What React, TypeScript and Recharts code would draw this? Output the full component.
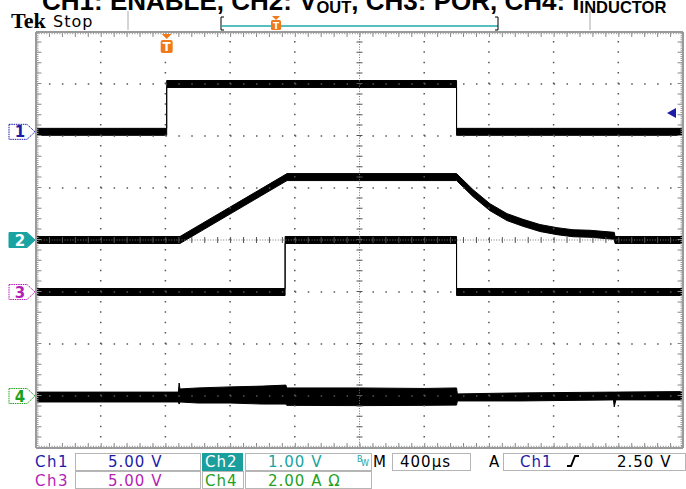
import { Area, ComposedChart, ReferenceDot, ReferenceLine, XAxis, YAxis } from "recharts";

// time in µs (10 div x 400 µs), levels in scope divisions
const ch1Time = [0, 808, 808, 2600, 2600, 4000];
const ch1Volts = [0, 0, 4.6, 4.6, 0, 0];

const ch2Time = [0, 890, 1552, 2600, 2702, 2807, 2912, 3011, 3116, 3221, 3320, 3425, 3575, 3580, 4000];
const ch2Volts = [0, 0, 1.21, 1.21, 0.9, 0.63, 0.44, 0.33, 0.23, 0.17, 0.13, 0.12, 0.08, 0, 0];

const ch3Time = [0, 1540, 1540, 2600, 2600, 4000];
const ch3Volts = [0, 0, 5, 5, 0, 0];

const ch4Time = [0, 880, 885, 890, 1000, 1200, 1400, 1545, 1550, 2000, 2400, 2600, 2605, 3000, 3570, 3575, 3585, 4000];
const ch4Top = [0.15, 0.15, 0.5, 0.27, 0.31, 0.35, 0.38, 0.42, 0.31, 0.31, 0.29, 0.31, 0.08, 0.12, 0.15, 0.15, 0.15, 0.17];
const ch4Bottom = [-0.23, -0.23, -0.31, -0.23, -0.27, -0.27, -0.31, -0.31, -0.36, -0.37, -0.36, -0.35, -0.19, -0.19, -0.15, -0.42, -0.15, -0.15];

const channelLabels = ["1", "2", "3", "4"];
const channelColors = ["#1c1ca8", "#19a3a3", "#b41eb4", "#1ea01e"];
const channelOffsets = [2.08, 0, -1, -3];
const channelScales = [5, 1, 5, 2];

const divTimes = [400, 800, 1200, 1600, 2400, 2800, 3200, 3600];
const divLevels = [-3, -2, -1, 1, 2, 3];
const triggerTime = 808;
const triggerLevel = 2.44;

const HALF = 0.067;

function traceRows(time: number[], values: number[], ch: number) {
  return time.map((t, i) => {
    const p = channelOffsets[ch] + values[i] / channelScales[ch];
    return { t, band: [p - HALF, p + HALF] };
  });
}

const ch1Rows = traceRows(ch1Time, ch1Volts, 0);
const ch2Rows = traceRows(ch2Time, ch2Volts, 1);
const ch3Rows = traceRows(ch3Time, ch3Volts, 2);
const ch4Rows = ch4Time.map((t, i) => ({
  t,
  band: [channelOffsets[3] + ch4Bottom[i] / channelScales[3], channelOffsets[3] + ch4Top[i] / channelScales[3]],
}));

function ChannelTag(props: any) {
  const { x, y, payload } = props;
  const i = channelOffsets.indexOf(payload.value);
  if (i < 0) return null;
  const c = channelColors[i];
  const filled = i === 1;
  const r = x - 1;
  const d = `M${r - 26},${y - 7.5} L${r - 8},${y - 7.5} L${r},${y} L${r - 8},${y + 7.5} L${r - 26},${y + 7.5} Z`;
  return (
    <g>
      <path d={d} fill={filled ? c : "#fff"} stroke={c} strokeWidth={1} strokeDasharray={filled ? undefined : "1.5 0.8"} />
      <text x={r - 15} y={y + 5.5} textAnchor="middle" fontFamily="DejaVu Sans" fontWeight="bold" fontSize={15} fill={filled ? "#fff" : c}>
        {channelLabels[i]}
      </text>
    </g>
  );
}

function TriggerTag(props: any) {
  const { cx, cy } = props;
  return (
    <g>
      <path d={`M${cx - 5},${cy + 2} L${cx + 5},${cy + 2} L${cx},${cy + 7} Z`} fill="#f07a1a" />
      <rect x={cx - 6} y={cy + 8} width={12} height={13} rx={2} fill="#f07a1a" />
      <text x={cx} y={cy + 19} textAnchor="middle" fontFamily="DejaVu Sans" fontWeight="bold" fontSize={12} fill="#fff">
        T
      </text>
    </g>
  );
}

function LevelArrow(props: any) {
  const { cx, cy } = props;
  return <path d={`M${cx - 16},${cy} L${cx - 7},${cy - 5} L${cx - 7},${cy + 5} Z`} fill="#1c1ca8" />;
}

const gridDot = { stroke: "#555", strokeWidth: 1.5 };

function Scope() {
  return (
    <ComposedChart width={686} height={489} margin={{ top: 32, right: 3, bottom: 41, left: 0 }}>
      <XAxis type="number" dataKey="t" domain={[0, 4000]} hide allowDataOverflow />
      <YAxis
        type="number"
        domain={[-4, 4]}
        width={36}
        ticks={channelOffsets}
        interval={0}
        axisLine={false}
        tickLine={false}
        tickSize={0}
        tickMargin={0}
        tick={ChannelTag}
        allowDataOverflow
      />
      {divTimes.map((t) => (
        <ReferenceLine key={"x" + t} x={t} {...gridDot} strokeDasharray="1.5 8.9" />
      ))}
      {divLevels.map((l) => (
        <ReferenceLine key={"y" + l} y={l} {...gridDot} strokeDasharray="1.5 11.44" />
      ))}
      <ReferenceLine x={2000} stroke="#777" strokeWidth={1} strokeDasharray="1 1.6" />
      <ReferenceLine x={2000} stroke="#555" strokeWidth={6} strokeDasharray="1 9.4" />
      <ReferenceLine y={0} stroke="#777" strokeWidth={1} strokeDasharray="1 1.6" />
      <ReferenceLine y={0} stroke="#555" strokeWidth={6} strokeDasharray="1 11.94" />

      <ReferenceLine x={18} stroke="#888" strokeWidth={5} strokeDasharray="1 9.4" />
      <ReferenceLine x={3982} stroke="#888" strokeWidth={5} strokeDasharray="1 9.4" />
      <ReferenceLine y={3.95} stroke="#888" strokeWidth={5} strokeDasharray="1 11.94" />
      <ReferenceLine y={-3.95} stroke="#888" strokeWidth={5} strokeDasharray="1 11.94" />
      <ReferenceLine x={6} stroke="#999" strokeWidth={3} strokeDasharray="1 1.08" />
      <ReferenceLine x={3994} stroke="#999" strokeWidth={3} strokeDasharray="1 1.08" />
      <ReferenceLine y={3.985} stroke="#999" strokeWidth={3} strokeDasharray="1 1.59" />
      <ReferenceLine y={-3.985} stroke="#999" strokeWidth={3} strokeDasharray="1 1.59" />
      <ReferenceLine x={0} stroke="#9a9a9a" strokeWidth={2} />
      <ReferenceLine x={4000} stroke="#9a9a9a" strokeWidth={2} />
      <ReferenceLine y={4} stroke="#9a9a9a" strokeWidth={2} />
      <ReferenceLine y={-4} stroke="#9a9a9a" strokeWidth={2} />

      {[ch1Rows, ch2Rows, ch3Rows, ch4Rows].map((rows, i) => (
        <Area
          key={i}
          data={rows}
          dataKey="band"
          type="linear"
          stroke="#000"
          strokeWidth={1}
          fill="#000"
          fillOpacity={1}
          dot={false}
          activeDot={false}
          isAnimationActive={false}
        />
      ))}

      <ReferenceDot x={triggerTime} y={4} shape={TriggerTag} ifOverflow="visible" />
      <ReferenceDot x={4000} y={triggerLevel} shape={LevelArrow} ifOverflow="visible" />
    </ComposedChart>
  );
}

const sans = "DejaVu Sans";

function Overlay() {
  return (
    <svg width={686} height={489} style={{ position: "absolute", left: 0, top: 0, pointerEvents: "none" }}>
      <text x={42} y={10} fontFamily="Liberation Sans" fontWeight="bold" fontSize={26} fill="#000">
        CH1: ENABLE, CH2: V
        <tspan fontSize={16.5} dy={3}>OUT</tspan>
        <tspan dy={-3}>, CH3: POR, CH4: I</tspan>
        <tspan fontSize={16.5} dy={3}>INDUCTOR</tspan>
      </text>

      <text x={11} y={28} fontFamily="Liberation Serif" fontWeight="bold" fontSize={22} fill="#000">Tek</text>
      <text x={53} y={27} fontFamily={sans} fontSize={16} letterSpacing={1} fill="#000">Stop</text>
      <line x1={128} y1={11} x2={128} y2={30} stroke="#aaa" />
      <line x1={590} y1={11} x2={590} y2={30} stroke="#aaa" />
      <line x1={222} y1={26} x2={498} y2={26} stroke="#20a8a8" strokeWidth={1.5} />
      <path d="M224,17 L221,17 L221,30 L224,30 M495,17 L498,17 L498,30 L495,30" fill="none" stroke="#000" />
      <path d="M272,16 L280,16 L276,20 Z" fill="#f07a1a" />
      <rect x={271} y={20} width={10} height={10} rx={1.5} fill="#f07a1a" />
      <text x={276} y={29} textAnchor="middle" fontFamily={sans} fontWeight="bold" fontSize={9} fill="#fff">T</text>

      <g fontFamily={sans} fontSize={15} letterSpacing={1}>
        <text x={35} y={467} fill="#1c1ca8" letterSpacing={1.5}>Ch1</text>
        <rect x={75.5} y={453.5} width={125} height={17} fill="none" stroke="#b5b5b5" />
        <text x={108} y={467} fill="#1c1ca8">5.00 V</text>
        <rect x={202} y={453} width={41} height={18} fill="#1a9e9e" />
        <text x={205} y={467} fill="#fff">Ch2</text>
        <rect x={245.5} y={453.5} width={126} height={17} fill="none" stroke="#b5b5b5" />
        <text x={268} y={467} fill="#19a3a3">1.00 V</text>
        <text x={357} y={462} fill="#19a3a3" fontSize={8} letterSpacing={0}>B</text>
        <text x={361} y={466} fill="#19a3a3" fontSize={8} letterSpacing={0}>W</text>
        <text x={373} y={467} fill="#000">M</text>
        <rect x={392.5} y={453.5} width={78} height={17} fill="none" stroke="#b5b5b5" />
        <text x={400} y={467} fill="#000">400µs</text>
        <text x={489} y={467} fill="#000">A</text>
        <rect x={503.5} y={453.5} width={182} height={17} fill="none" stroke="#b5b5b5" />
        <text x={520} y={467} fill="#1c1ca8">Ch1</text>
        <path d="M567,466 L571,466 L575,456 L579,456" fill="none" stroke="#000" strokeWidth={2} />
        <text x={617} y={467} fill="#000">2.50 V</text>

        <text x={35} y={486} fill="#b41eb4" letterSpacing={1.5}>Ch3</text>
        <rect x={75.5} y={471.5} width={125} height={17} fill="none" stroke="#b5b5b5" />
        <text x={108} y={486} fill="#b41eb4">5.00 V</text>
        <rect x={202.5} y={471.5} width={41} height={17} fill="none" stroke="#b5b5b5" />
        <text x={205} y={486} fill="#1ea01e">Ch4</text>
        <rect x={245.5} y={471.5} width={126} height={17} fill="none" stroke="#b5b5b5" />
        <text x={268} y={486} fill="#1ea01e">2.00 A Ω</text>
      </g>
    </svg>
  );
}

export default function App() {
  return (
    <div style={{ position: "absolute", left: 0, top: 0, width: 686, height: 489, background: "#fff", overflow: "hidden" }}>
      <Scope />
      <Overlay />
    </div>
  );
}
